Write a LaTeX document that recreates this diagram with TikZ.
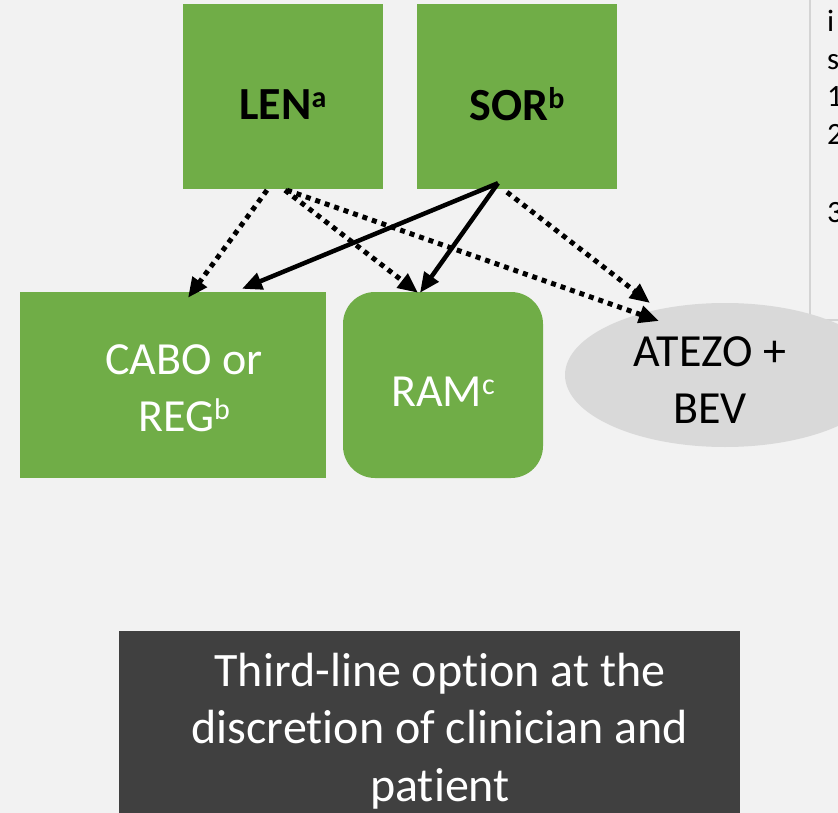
\documentclass[tikz,border=0pt]{standalone}
\usepackage{fontspec}
\setmainfont{Carlito}[Ligatures={NoCommon}]
\usetikzlibrary{arrows.meta,shapes.geometric}
\definecolor{bg}{HTML}{F2F2F2}
\definecolor{grn}{HTML}{70AD47}
\definecolor{gry}{HTML}{D9D9D9}
\definecolor{drk}{HTML}{404040}
\definecolor{pnl}{HTML}{D4D4D4}
\newcommand\supx[1]{\raisebox{12pt}{\fontsize{30}{30}\selectfont #1}}
\begin{document}
\begin{tikzpicture}[x=1pt,y=-1pt,
 greenbox/.style={rectangle, fill=grn, draw=none, minimum width=200pt, minimum height=185pt, inner sep=0pt},
 boldtxt/.style={font=\fontsize{46}{56}\selectfont\bfseries, text=black, align=center, inner sep=0pt},
 whitetxt/.style={font=\fontsize{46}{57}\selectfont, text=white, align=center, inner sep=0pt},
 blacktxt/.style={font=\fontsize{46}{57}\selectfont, text=black, align=center, inner sep=0pt},
 bottomtxt/.style={font=\fontsize{48}{57.5}\selectfont, text=white, align=center, inner sep=0pt},
 paneltxt/.style={font=\fontsize{31}{37}\selectfont, text=black, inner sep=0pt, anchor=base west},
 solidarrow/.style={line width=4.5pt, -{Triangle[length=20pt,width=17pt]}},
 dotarrow/.style={line width=5pt, dash pattern=on 5pt off 5pt, -{Triangle[length=20pt,width=17pt]}},
]
\useasboundingbox (0,0) rectangle (838,813);
\fill[bg] (0,0) rectangle (838,813);

% side panel
\draw[pnl, line width=1.5pt, fill=bg] (810,-5) rectangle (870,320);
\node[paneltxt] (p1) at (827,32) {i};
\node[paneltxt] (p2) at (827,70) {s};
\node[paneltxt] (p3) at (827,107) {1};
\node[paneltxt] (p4) at (827,145) {2};
\node[paneltxt] (p5) at (827,223) {3};

% nodes
\node[greenbox, label={[boldtxt, yshift=-8pt]center:{LEN\supx{a}}}] (len) at (283,96.5) {};
\node[greenbox, label={[boldtxt, yshift=-8pt]center:{SOR\supx{b}}}] (sor) at (517,96.5) {};
\node[greenbox, minimum width=306pt, minimum height=186pt,
      label={[whitetxt, xshift=11pt, yshift=-3pt]center:{CABO or\\REG\supx{b}}}] (cabo) at (173,385) {};
\node[greenbox, rounded corners=32pt, minimum height=186pt,
      label={[whitetxt, yshift=-7pt]center:{RAM\supx{c}}}] (ram) at (443,385) {};
\node[ellipse, fill=gry, draw=none, minimum width=320pt, minimum height=144pt, inner sep=0pt,
      label={[blacktxt, xshift=-15pt, yshift=-5pt]center:{ATEZO +\\BEV}}] (atezo) at (725,375) {};

\node[rectangle, fill=drk, minimum width=621pt, minimum height=200pt, inner sep=0pt,
      label={[bottomtxt, xshift=10.5pt]center:{Third-line option at the\\discretion of clinician and\\patient}}] (note) at (429.5,731) {};

% connectors
\draw[dotarrow] ([xshift=-16pt,yshift=-1pt]len.south) -- ([xshift=15pt,yshift=-6pt]cabo.north);
\draw[dotarrow] ([xshift=2pt,yshift=-1pt]len.south) -- ([xshift=-25pt,yshift=-1pt]ram.north);
\draw[dotarrow] ([xshift=4pt,yshift=-1pt]len.south) -- ([xshift=-66pt,yshift=54pt]atezo.center);
\draw[solidarrow] ([xshift=-19pt,yshift=6pt]sor.south) -- ([xshift=69pt,yshift=3pt]cabo.north);
\draw[solidarrow] ([xshift=-19pt,yshift=6pt]sor.south) -- ([xshift=-23pt,yshift=-1pt]ram.north);
\draw[dotarrow] ([xshift=-10pt,yshift=-3pt]sor.south) -- ([xshift=-75pt,yshift=72pt]atezo.center);
\end{tikzpicture}
\end{document}
